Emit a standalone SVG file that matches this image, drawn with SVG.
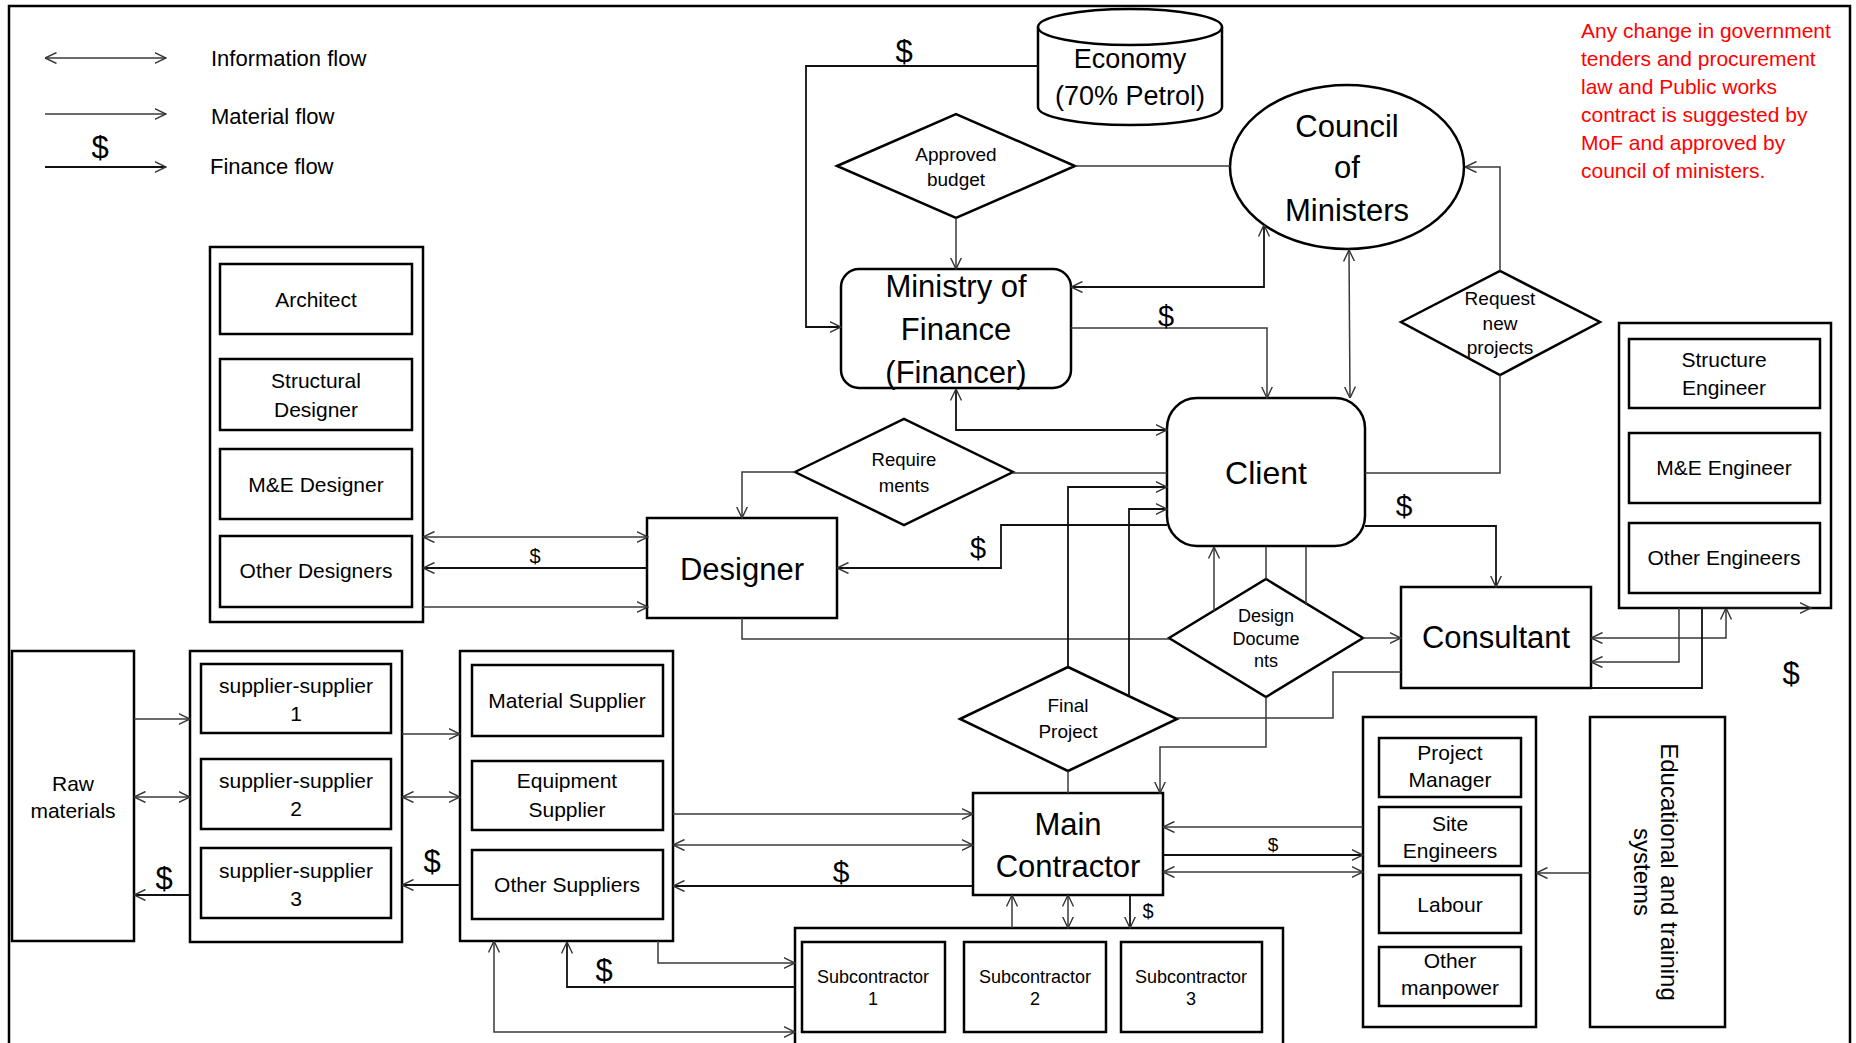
<svg xmlns="http://www.w3.org/2000/svg" width="1856" height="1043" viewBox="0 0 1856 1043">
<defs>
<style>
.b{fill:#fff;stroke:#000;stroke-width:2.5}
.c{fill:none;stroke:#3a3a3a;stroke-width:1.5}
.cf{fill:none;stroke:#111;stroke-width:1.8}
text{font-family:"Liberation Sans",Arial,sans-serif;fill:#000}
.t21{font-size:21px;text-anchor:middle}
.t19{font-size:19px;text-anchor:middle}
.t18{font-size:18px;text-anchor:middle}
.big{font-size:31px;text-anchor:middle}
.lg{font-size:22px}
.d{text-anchor:middle}
.red{font-size:21px;fill:#ff0000}
</style>
<marker id="ah" viewBox="0 0 12 12" refX="11.5" refY="6" markerWidth="12" markerHeight="12" orient="auto-start-reverse" markerUnits="userSpaceOnUse">
<path d="M0,0.5 L11.5,6 L0,11.5" fill="none" stroke="#333" stroke-width="1.4"/>
</marker>
</defs>
<rect x="0" y="0" width="1856" height="1043" fill="#fff"/>
<rect x="9" y="6" width="1841" height="1070" fill="none" stroke="#000" stroke-width="2.5"/>

<g id="legend">
<path class="c" d="M45,58 H166" marker-start="url(#ah)" marker-end="url(#ah)"/>
<path class="c" d="M45,114 H166" marker-end="url(#ah)"/>
<path class="cf" d="M45,167 H166" marker-end="url(#ah)"/>
<text x="100" y="158" class="d" style="font-size:31px">$</text>
<text x="211" y="66" class="lg">Information flow</text>
<text x="211" y="124" class="lg">Material flow</text>
<text x="210" y="174" class="lg">Finance flow</text>
</g>

<g id="note">
<text class="red" x="1581" y="38">Any change in government</text>
<text class="red" x="1581" y="66">tenders and procurement</text>
<text class="red" x="1581" y="94">law and Public works</text>
<text class="red" x="1581" y="122">contract is suggested by</text>
<text class="red" x="1581" y="150">MoF and approved by</text>
<text class="red" x="1581" y="178">council of ministers.</text>
</g>

<g id="economy">
<path class="b" d="M1038,27 V107 A92,18 0 0 0 1222,107 V27"/>
<ellipse class="b" cx="1130" cy="27" rx="92" ry="18"/>
<text x="1130" y="68" class="d" style="font-size:27px">Economy</text>
<text x="1130" y="105" class="d" style="font-size:27px">(70% Petrol)</text>
</g>

<g id="approved-budget">
<polygon class="b" points="837,166 956,114 1075,166 956,218"/>
<text x="956" y="161" class="t19">Approved</text>
<text x="956" y="186" class="t19">budget</text>
</g>

<g id="council">
<ellipse class="b" cx="1347" cy="167" rx="117" ry="82"/>
<text x="1347" y="137" class="big">Council</text>
<text x="1347" y="178" class="big">of</text>
<text x="1347" y="221" class="big">Ministers</text>
</g>

<g id="mof">
<rect class="b" x="841" y="269" width="230" height="119" rx="18"/>
<text x="956" y="297" class="big">Ministry of</text>
<text x="956" y="340" class="big">Finance</text>
<text x="956" y="383" class="big">(Financer)</text>
</g>

<g id="request">
<polygon class="b" points="1401,322 1500,271 1600,322 1500,375"/>
<text x="1500" y="305" class="t19">Request</text>
<text x="1500" y="330" class="t19">new</text>
<text x="1500" y="354" class="t19">projects</text>
</g>

<g id="client">
<rect class="b" x="1167" y="398" width="198" height="148" rx="30"/>
<text x="1266" y="484" class="d" style="font-size:32px">Client</text>
</g>

<g id="requirements">
<polygon class="b" points="795,472 904,419 1013,472 904,525"/>
<text x="904" y="466" class="d" style="font-size:18.5px">Require</text>
<text x="904" y="492" class="d" style="font-size:18.5px">ments</text>
</g>

<g id="designer">
<rect class="b" x="647" y="518" width="190" height="100"/>
<text x="742" y="580" class="big">Designer</text>
</g>

<g id="designers-group">
<rect class="b" x="210" y="247" width="213" height="375"/>
<rect class="b" x="220" y="264" width="192" height="70"/>
<text x="316" y="307" class="t21">Architect</text>
<rect class="b" x="220" y="359" width="192" height="71"/>
<text x="316" y="388" class="t21">Structural</text>
<text x="316" y="417" class="t21">Designer</text>
<rect class="b" x="220" y="449" width="192" height="70"/>
<text x="316" y="492" class="t21">M&amp;E Designer</text>
<rect class="b" x="220" y="536" width="192" height="71"/>
<text x="316" y="578" class="t21">Other Designers</text>
</g>

<g id="design-documents">
<polygon class="b" points="1169,638 1266,579 1363,638 1266,697"/>
<text x="1266" y="622" class="t18">Design</text>
<text x="1266" y="645" class="t18">Docume</text>
<text x="1266" y="667" class="t18">nts</text>
</g>

<g id="consultant">
<rect class="b" x="1401" y="587" width="190" height="101"/>
<text x="1496" y="648" class="big">Consultant</text>
</g>

<g id="engineers-group">
<rect class="b" x="1619" y="323" width="212" height="285"/>
<rect class="b" x="1629" y="339" width="191" height="69"/>
<text x="1724" y="367" class="t21">Structure</text>
<text x="1724" y="395" class="t21">Engineer</text>
<rect class="b" x="1629" y="433" width="191" height="70"/>
<text x="1724" y="475" class="t21">M&amp;E Engineer</text>
<rect class="b" x="1629" y="523" width="191" height="70"/>
<text x="1724" y="565" class="t21">Other Engineers</text>
</g>

<g id="final-project">
<polygon class="b" points="960,719 1068,667 1177,719 1068,771"/>
<text x="1068" y="712" class="t19">Final</text>
<text x="1068" y="738" class="t19">Project</text>
</g>

<g id="main-contractor">
<rect class="b" x="973" y="793" width="190" height="102"/>
<text x="1068" y="835" class="big">Main</text>
<text x="1068" y="877" class="big">Contractor</text>
</g>

<g id="raw-materials">
<rect class="b" x="12" y="651" width="122" height="290"/>
<text x="73" y="791" class="t21">Raw</text>
<text x="73" y="818" class="t21">materials</text>
</g>

<g id="supplier-suppliers">
<rect class="b" x="190" y="651" width="212" height="291"/>
<rect class="b" x="201" y="664" width="190" height="69"/>
<text x="296" y="693" class="t21">supplier-supplier</text>
<text x="296" y="721" class="t21">1</text>
<rect class="b" x="201" y="759" width="190" height="70"/>
<text x="296" y="788" class="t21">supplier-supplier</text>
<text x="296" y="816" class="t21">2</text>
<rect class="b" x="201" y="848" width="190" height="70"/>
<text x="296" y="878" class="t21">supplier-supplier</text>
<text x="296" y="906" class="t21">3</text>
</g>

<g id="suppliers">
<rect class="b" x="460" y="651" width="213" height="290"/>
<rect class="b" x="472" y="665" width="191" height="71"/>
<text x="567" y="708" class="t21">Material Supplier</text>
<rect class="b" x="472" y="761" width="191" height="69"/>
<text x="567" y="788" class="t21">Equipment</text>
<text x="567" y="817" class="t21">Supplier</text>
<rect class="b" x="472" y="850" width="191" height="69"/>
<text x="567" y="892" class="t21">Other Suppliers</text>
</g>

<g id="subcontractors">
<rect class="b" x="795" y="928" width="488" height="130"/>
<rect class="b" x="802" y="942" width="143" height="90"/>
<text x="873" y="983" class="t18">Subcontractor</text>
<text x="873" y="1005" class="t18">1</text>
<rect class="b" x="964" y="942" width="142" height="90"/>
<text x="1035" y="983" class="t18">Subcontractor</text>
<text x="1035" y="1005" class="t18">2</text>
<rect class="b" x="1121" y="942" width="141" height="90"/>
<text x="1191" y="983" class="t18">Subcontractor</text>
<text x="1191" y="1005" class="t18">3</text>
</g>

<g id="manpower">
<rect class="b" x="1363" y="717" width="173" height="310"/>
<rect class="b" x="1379" y="738" width="142" height="59"/>
<text x="1450" y="760" class="t21">Project</text>
<text x="1450" y="787" class="t21">Manager</text>
<rect class="b" x="1379" y="807" width="142" height="59"/>
<text x="1450" y="831" class="t21">Site</text>
<text x="1450" y="858" class="t21">Engineers</text>
<rect class="b" x="1379" y="875" width="142" height="58"/>
<text x="1450" y="912" class="t21">Labour</text>
<rect class="b" x="1379" y="947" width="142" height="59"/>
<text x="1450" y="968" class="t21">Other</text>
<text x="1450" y="995" class="t21">manpower</text>
</g>

<g id="education">
<rect class="b" x="1590" y="717" width="135" height="310"/>
<text transform="translate(1661,872) rotate(90)" class="d" style="font-size:24px">Educational and training</text>
<text transform="translate(1634,872) rotate(90)" class="d" style="font-size:24px">systems</text>
</g>

<g id="connectors">
<path class="cf" d="M1038,66 H806 V327 H841" marker-end="url(#ah)"/>
<text x="904" y="62" class="d" style="font-size:31px">$</text>
<path class="c" d="M1075,166 H1230"/>
<path class="c" d="M956,218 V269" marker-end="url(#ah)"/>
<path class="cf" d="M1071,287 H1264 V225" marker-start="url(#ah)" marker-end="url(#ah)"/>
<path class="c" d="M1071,328 H1267 V398" marker-end="url(#ah)"/>
<text x="1166" y="326" class="d" style="font-size:29px">$</text>
<path class="c" d="M1349,250 L1350,398" marker-start="url(#ah)" marker-end="url(#ah)"/>
<path class="c" d="M1500,271 V167 H1465" marker-end="url(#ah)"/>
<path class="c" d="M1365,473 H1500 V375"/>
<path class="cf" d="M1365,526 H1496 V587" marker-end="url(#ah)"/>
<text x="1404" y="516" class="d" style="font-size:30px">$</text>
<path class="cf" d="M956,389 V430 H1167" marker-start="url(#ah)" marker-end="url(#ah)"/>
<path class="c" d="M1013,473 H1167"/>
<path class="c" d="M795,472 H742 V518" marker-end="url(#ah)"/>
<path class="cf" d="M1167,525 H1001 V568 H837" marker-end="url(#ah)"/>
<text x="978" y="558" class="d" style="font-size:29px">$</text>
<path class="c" d="M648,537 H423" marker-start="url(#ah)" marker-end="url(#ah)"/>
<path class="cf" d="M648,568 H423" marker-end="url(#ah)"/>
<text x="535" y="563" class="d" style="font-size:20px">$</text>
<path class="c" d="M423,607 H648" marker-end="url(#ah)"/>
<path class="c" d="M742,618 V639 H1169"/>
<path class="c" d="M1266,579 V547"/>
<path class="c" d="M1306,605 V547"/>
<path class="c" d="M1214,611 V547" marker-end="url(#ah)"/>
<path class="c" d="M1363,638 H1401" marker-end="url(#ah)"/>
<path class="c" d="M1266,697 V747 H1160 V793" marker-end="url(#ah)"/>
<path class="c" d="M1401,672 H1333 V718 H1177"/>
<path class="cf" d="M1068,667 V487 H1167" marker-end="url(#ah)"/>
<path class="cf" d="M1129,696 V509 H1167" marker-end="url(#ah)"/>
<path class="c" d="M1068,771 V793"/>
<path class="c" d="M1591,638 H1726 V608" marker-start="url(#ah)" marker-end="url(#ah)"/>
<path class="c" d="M1679,608 V662 H1591" marker-end="url(#ah)"/>
<path class="cf" d="M1591,688 H1702 V608 H1811" marker-end="url(#ah)"/>
<text x="1791" y="684" class="d" style="font-size:31px">$</text>
<path class="c" d="M134,719 H190" marker-end="url(#ah)"/>
<path class="c" d="M134,797 H190" marker-start="url(#ah)" marker-end="url(#ah)"/>
<path class="cf" d="M190,895 H134" marker-end="url(#ah)"/>
<text x="164" y="889" class="d" style="font-size:31px">$</text>
<path class="c" d="M402,734 H460" marker-end="url(#ah)"/>
<path class="c" d="M402,797 H460" marker-start="url(#ah)" marker-end="url(#ah)"/>
<path class="cf" d="M460,885 H402" marker-end="url(#ah)"/>
<text x="432" y="872" class="d" style="font-size:31px">$</text>
<path class="c" d="M673,814 H973" marker-end="url(#ah)"/>
<path class="c" d="M673,845 H973" marker-start="url(#ah)" marker-end="url(#ah)"/>
<path class="cf" d="M973,886 H673" marker-end="url(#ah)"/>
<text x="841" y="882" class="d" style="font-size:30px">$</text>
<path class="c" d="M1012,928 V895" marker-end="url(#ah)"/>
<path class="c" d="M1068,895 V928" marker-start="url(#ah)" marker-end="url(#ah)"/>
<path class="cf" d="M1130,895 V928" marker-end="url(#ah)"/>
<text x="1148" y="918" class="d" style="font-size:20px">$</text>
<path class="c" d="M658,941 V963 H795" marker-end="url(#ah)"/>
<path class="cf" d="M795,987 H567 V942" marker-end="url(#ah)"/>
<text x="604" y="981" class="d" style="font-size:31px">$</text>
<path class="c" d="M494,941 V1032 H795" marker-start="url(#ah)" marker-end="url(#ah)"/>
<path class="c" d="M1363,827 H1163" marker-end="url(#ah)"/>
<path class="cf" d="M1163,855 H1363" marker-end="url(#ah)"/>
<text x="1273" y="851" class="d" style="font-size:19px">$</text>
<path class="c" d="M1163,872 H1363" marker-start="url(#ah)" marker-end="url(#ah)"/>
<path class="c" d="M1590,873 H1536" marker-end="url(#ah)"/>
</g>
</svg>
